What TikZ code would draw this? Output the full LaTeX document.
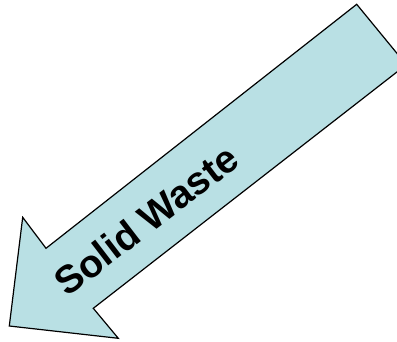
\documentclass[tikz,border=0pt]{standalone}
\usepackage{fontspec}
\setmainfont{Liberation Sans}
\definecolor{wasteblue}{RGB}{185,224,228}

\begin{document}
\begin{tikzpicture}[x=1pt,y=-1pt,line width=1.2pt]
\path[use as bounding box] (0,0) rectangle (397,341);
\clip (0,0) rectangle (397,341);
\draw[fill=wasteblue,line join=miter] (356.7,4.3) -- (406.3,64.7) -- (93.3,308.3) -- (118.3,338.3) -- (9.3,326.0) -- (22.7,217.3) -- (46.0,248.3) -- cycle;
\node[anchor=center,inner sep=0pt,rotate=37.5,font=\fontsize{39}{44}\selectfont\bfseries] (label) at (146,220) {Solid Waste};
\end{tikzpicture}
\end{document}
